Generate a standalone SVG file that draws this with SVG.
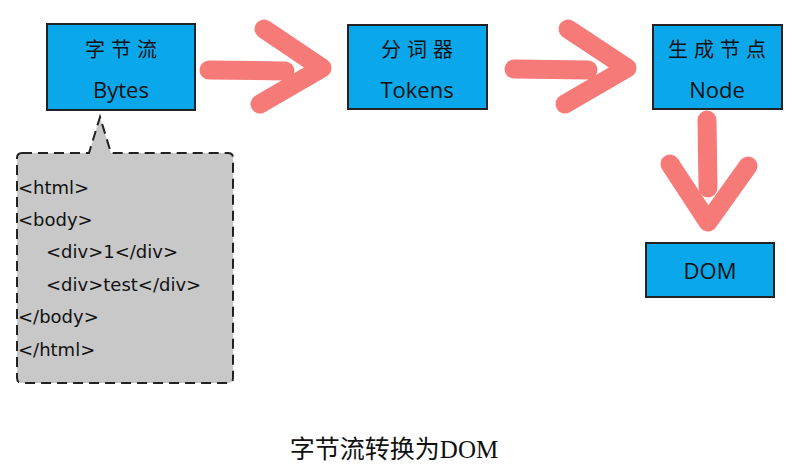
<svg xmlns="http://www.w3.org/2000/svg" width="812" height="471" viewBox="0 0 812 471">
<style>
.box{fill:#0aa8ea;stroke:#222;stroke-width:2}
.lbl{font-family:"Noto Sans CJK SC","Noto Sans",sans-serif;font-size:20px;fill:#111;text-anchor:middle;letter-spacing:6px}
.en{font-family:"Open Sans","DejaVu Sans",sans-serif;font-size:22px;fill:#111;text-anchor:middle}
.arr{fill:none;stroke:#f67a78;stroke-width:19;stroke-linecap:round;stroke-linejoin:round}
.code{font-family:"DejaVu Sans","Noto Sans",sans-serif;font-size:18px;fill:#111}
.cap{font-family:"Liberation Serif","Noto Sans CJK SC",serif;font-size:25px;fill:#111;text-anchor:middle}
</style>
<rect width="812" height="471" fill="#fff"/>
<g id="callout">
<path d="M22,153 L89,153 L100,117 L111,153 L228,153 Q233,153 233,158 L233,378 Q233,383 228,383 L22,383 Q17,383 17,378 L17,158 Q17,153 22,153 Z" fill="#c8c8c8" stroke="#222" stroke-width="2" stroke-dasharray="10 6"/>
<text class="code" x="18" y="194">&lt;html&gt;</text>
<text class="code" x="18" y="226">&lt;body&gt;</text>
<text class="code" x="46" y="258">&lt;div&gt;1&lt;/div&gt;</text>
<text class="code" x="46" y="291">&lt;div&gt;test&lt;/div&gt;</text>
<text class="code" x="18" y="323">&lt;/body&gt;</text>
<text class="code" x="18" y="356">&lt;/html&gt;</text>
</g>
<g id="bytes">
<rect class="box" x="47" y="24" width="148" height="86"/>
<text class="lbl" x="124" y="57">字节流</text>
<text class="en" x="121" y="98">Bytes</text>
</g>
<g id="tokens">
<rect class="box" x="348" y="25" width="139" height="84"/>
<text class="lbl" x="420" y="57">分词器</text>
<text class="en" x="417" y="98">Tokens</text>
</g>
<g id="node">
<rect class="box" x="653" y="25" width="129" height="84"/>
<text class="lbl" x="720" y="57">生成节点</text>
<text class="en" x="717" y="98">Node</text>
</g>
<g id="dom">
<rect class="box" x="646" y="243" width="128" height="54"/>
<text class="en" x="710" y="279">DOM</text>
</g>
<g id="connectors">
<path class="arr" d="M209,70 L285,71"/>
<path class="arr" d="M264,29 L322,68 L260,104"/>
<path class="arr" d="M514,69 L588,70"/>
<path class="arr" d="M568,29 L627,68 L565,104"/>
<path class="arr" d="M707,120 L708,188"/>
<path class="arr" d="M670,164 L708,222 L748,166"/>
</g>
<text class="cap" x="394" y="458">字节流转换为DOM</text>
</svg>
